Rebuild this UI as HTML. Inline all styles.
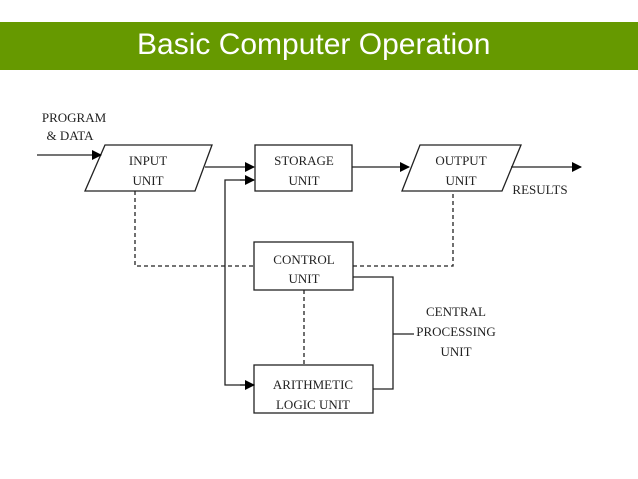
<!DOCTYPE html>
<html><head><style>
body{margin:0;background:#fff;width:638px;height:479px;overflow:hidden;position:relative}
.ban{position:absolute;left:0;top:22px;width:638px;height:48px;background:#669900}
.ban div{position:absolute;left:137px;top:6px;font:30px "Liberation Sans",sans-serif;color:#fff;white-space:nowrap}
svg{position:absolute;left:0;top:0}
text{font-family:"Liberation Serif",serif;font-size:13px;fill:#222}
</style></head><body>
<div class="ban"><div>Basic Computer Operation</div></div>
<svg width="638" height="479">
<defs><marker id="a" markerWidth="10" markerHeight="10" refX="9" refY="5" orient="auto" markerUnits="userSpaceOnUse"><path d="M0,0L10,5L0,10z" fill="#000"/></marker></defs>
<g stroke="#222" stroke-width="1.3" fill="none">
<polygon points="105,145 212,145 195,191 85,191"/>
<rect x="255" y="145" width="97" height="46"/>
<polygon points="420,145 521,145 502,191 402,191"/>
<rect x="254" y="242" width="99" height="48"/>
<rect x="254" y="365" width="119" height="48"/>
<line x1="37" y1="155" x2="101" y2="155" marker-end="url(#a)"/>
<line x1="205" y1="167" x2="254" y2="167" marker-end="url(#a)"/>
<polyline points="254,385 225,385 225,180 254,180" />
<line x1="240" y1="180" x2="254" y2="180" marker-end="url(#a)"/>
<line x1="240" y1="385" x2="254" y2="385" marker-end="url(#a)"/>
<line x1="352" y1="167" x2="409" y2="167" marker-end="url(#a)"/>
<line x1="511" y1="167" x2="581" y2="167" marker-end="url(#a)"/>
<polyline points="353,277 393,277 393,389 373,389"/>
<line x1="393" y1="334" x2="414" y2="334"/>
<g stroke-dasharray="4,3">
<polyline points="135,191 135,266 254,266"/>
<polyline points="353,266 453,266 453,191"/>
<line x1="304" y1="290" x2="304" y2="365"/>
</g>
</g>
<g text-anchor="middle">
<text x="74" y="122">PROGRAM</text>
<text x="70" y="140">&amp; DATA</text>
<text x="148" y="165">INPUT</text><text x="148" y="185">UNIT</text>
<text x="304" y="165">STORAGE</text><text x="304" y="185">UNIT</text>
<text x="461" y="165">OUTPUT</text><text x="461" y="185">UNIT</text>
<text x="540" y="194">RESULTS</text>
<text x="304" y="264">CONTROL</text><text x="304" y="283">UNIT</text>
<text x="313" y="389">ARITHMETIC</text><text x="313" y="409">LOGIC UNIT</text>
<text x="456" y="316">CENTRAL</text><text x="456" y="336">PROCESSING</text><text x="456" y="356">UNIT</text>
</g>
</svg>
</body></html>
